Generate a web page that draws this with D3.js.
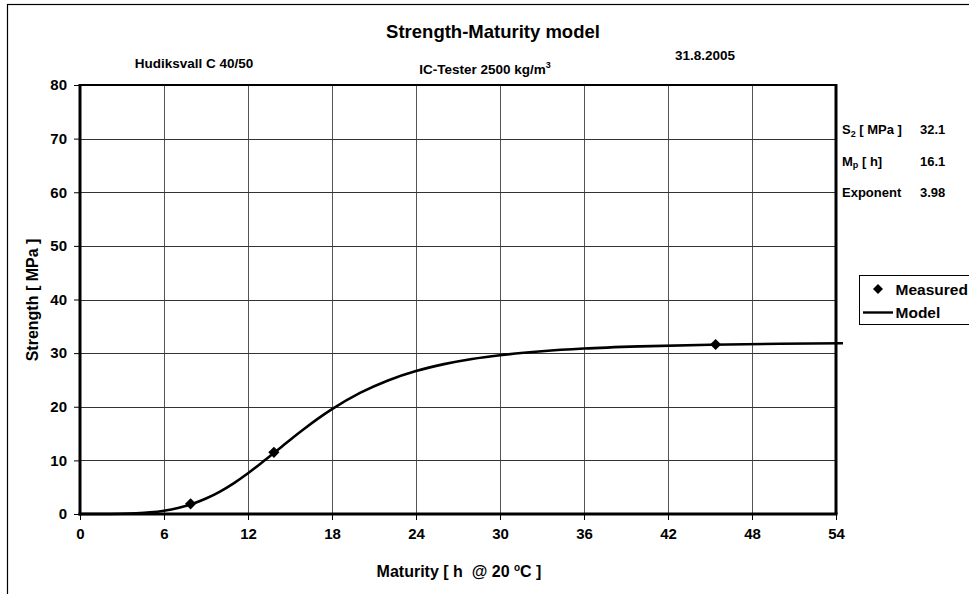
<!DOCTYPE html>
<html>
<head>
<meta charset="utf-8">
<script src="https://cdn.jsdelivr.net/npm/d3@7"></script>
<style>
  html, body { margin: 0; padding: 0; background: #fff; }
  svg { display: block; font-family: Arial, "Liberation Sans", sans-serif; font-weight: bold; }
</style>
</head>
<body>
<svg id="chart" width="969" height="594"></svg>
<script>
// ---- data ----
const title = "Strength-Maturity model";
const xTicks = [0, 6, 12, 18, 24, 30, 36, 42, 48, 54];
const yTicks = [0, 10, 20, 30, 40, 50, 60, 70, 80];
const measuredMaturity = [7.9, 13.85, 45.4];
const measuredStrength = [1.9, 11.5, 31.6];
const modelMaturity = [0, 1, 2, 3, 4, 5, 6, 7, 8, 9, 10, 11, 12, 13, 14, 15, 16, 17, 18, 20, 22, 24, 26, 28, 30, 33, 36, 40, 45, 50, 54.5];
const modelStrength = [0, 0.0, 0.01, 0.04, 0.13, 0.30, 0.62, 1.13, 1.87, 2.89, 4.19, 5.77, 7.60, 9.61, 11.70, 13.81, 15.85, 17.78, 19.55, 22.58, 24.91, 26.66, 27.95, 28.91, 29.61, 30.35, 30.85, 31.26, 31.57, 31.75, 31.85];
const paramLabels = ["S2", "Mp", "Exponent"];
const paramValues = ["32.1", "16.1", "3.98"];
const legendLabels = ["Measured", "Model"];

const svg = d3.select("#chart");
const FF = "Arial, 'Liberation Sans', sans-serif";

// outer frame
svg.append("rect").attr("x", 7.5).attr("y", 4.5).attr("width", 980).attr("height", 600)
  .attr("fill", "none").attr("stroke", "#000").attr("stroke-width", 1.2);

const L = 80, R = 836, T = 85, B = 514;
const x = d3.scaleLinear().domain([0, 54]).range([L, R]);
const y = d3.scaleLinear().domain([0, 80]).range([B, T]);

// gridlines
const grid = svg.append("g");
grid.selectAll(".vg").data(xTicks.slice(1, -1)).join("line")
  .attr("x1", d => Math.round(x(d)) + 0.5).attr("x2", d => Math.round(x(d)) + 0.5)
  .attr("y1", T).attr("y2", B).attr("stroke", "#555").attr("stroke-width", 1);
grid.selectAll(".hg").data(yTicks.slice(1, -1)).join("line")
  .attr("y1", d => Math.round(y(d)) + 0.5).attr("y2", d => Math.round(y(d)) + 0.5)
  .attr("x1", L).attr("x2", R).attr("stroke", "#333").attr("stroke-width", 1);

// plot border
svg.append("line").attr("x1", L).attr("x2", R).attr("y1", T).attr("y2", T).attr("stroke", "#000").attr("stroke-width", 2);
svg.append("line").attr("x1", R).attr("x2", R).attr("y1", T - 1).attr("y2", B).attr("stroke", "#000").attr("stroke-width", 3);

// axes
const xAxis = d3.axisBottom(x).tickValues(xTicks).tickSize(6).tickPadding(8).tickFormat(d3.format("d"));
const gx = svg.append("g").attr("transform", `translate(0,${B})`).call(xAxis);
gx.select(".domain").attr("stroke-width", 3).attr("d", `M${L - 1.5},0H${R + 1.5}`);
gx.selectAll(".tick line").attr("stroke-width", 1);
gx.selectAll("text").attr("font-size", 15).attr("font-weight", "bold").attr("fill", "#000").attr("font-family", FF);

const yAxis = d3.axisLeft(y).tickValues(yTicks).tickSize(6).tickPadding(7).tickFormat(d3.format("d"));
const gy = svg.append("g").attr("transform", `translate(${L},0)`).call(yAxis);
gy.select(".domain").attr("stroke-width", 3).attr("d", `M0,${T - 1}V${B + 1.5}`);
gy.selectAll(".tick line").attr("stroke-width", 1);
gy.selectAll("text").attr("font-size", 15).attr("font-weight", "bold").attr("fill", "#000").attr("font-family", FF);

// model curve
const modelData = modelMaturity.map((m, i) => [m, modelStrength[i]]);
svg.append("path").datum(modelData)
  .attr("fill", "none").attr("stroke", "#000").attr("stroke-width", 2.6)
  .attr("d", d3.line().x(d => x(d[0])).y(d => y(d[1])).curve(d3.curveMonotoneX));

// measured points (square rotated 45deg)
const diamond = d3.symbol().type(d3.symbolSquare).size(62);
svg.selectAll(".pt").data(measuredMaturity.map((m, i) => [m, measuredStrength[i]])).join("path")
  .attr("transform", d => `translate(${x(d[0])},${y(d[1])}) rotate(45)`)
  .attr("d", diamond).attr("fill", "#000");

// titles
svg.append("text").attr("x", 493).attr("y", 38).attr("text-anchor", "middle").attr("font-size", 18.5).text(title);
svg.append("text").attr("x", 194).attr("y", 68).attr("text-anchor", "middle").attr("font-size", 13.5).text("Hudiksvall C 40/50");
svg.append("text").attr("x", 705).attr("y", 60).attr("text-anchor", "middle").attr("font-size", 13.5).text("31.8.2005");
const sub = svg.append("text").attr("x", 485).attr("y", 74).attr("text-anchor", "middle").attr("font-size", 13.5);
sub.append("tspan").text("IC-Tester 2500 kg/m");
sub.append("tspan").attr("font-size", 9).attr("dy", -6).text("3");

// axis titles
const xt = svg.append("text").attr("x", 459).attr("y", 577).attr("text-anchor", "middle").attr("font-size", 16);
xt.append("tspan").text("Maturity [ h\u00a0\u00a0@ 20 ");
xt.append("tspan").attr("font-size", 10).attr("dy", -6).text("o");
xt.append("tspan").attr("dy", 6).text("C ]");
svg.append("text").attr("transform", "translate(38,300) rotate(-90)").attr("text-anchor", "middle")
  .attr("font-size", 16).text("Strength [ MPa ]");

// parameters
const pY = [134, 165.5, 197];
const p0 = svg.append("text").attr("x", 842).attr("y", pY[0]).attr("font-size", 13);
p0.append("tspan").text("S");
p0.append("tspan").attr("font-size", 9).attr("dy", 2.5).text("2");
p0.append("tspan").attr("dy", -2.5).text(" [ MPa ]");
const p1 = svg.append("text").attr("x", 842).attr("y", pY[1]).attr("font-size", 13);
p1.append("tspan").text("M");
p1.append("tspan").attr("font-size", 9).attr("dy", 2.5).text("p");
p1.append("tspan").attr("dy", -2.5).text(" [ h]");
svg.append("text").attr("x", 842).attr("y", pY[2]).attr("font-size", 13).text(paramLabels[2]);
svg.selectAll(".pv").data(paramValues).join("text")
  .attr("x", 920).attr("y", (d, i) => pY[i]).attr("font-size", 13).text(d => d);

// legend
const legendDiamond = d3.symbol().type(d3.symbolSquare).size(50);
svg.append("rect").attr("x", 859.5).attr("y", 275.5).attr("width", 130).attr("height", 49)
  .attr("fill", "#fff").attr("stroke", "#000").attr("stroke-width", 1);
svg.append("path").attr("transform", "translate(878,289) rotate(45)").attr("d", legendDiamond).attr("fill", "#000");
svg.append("line").attr("x1", 863).attr("x2", 893).attr("y1", 312.5).attr("y2", 312.5).attr("stroke", "#000").attr("stroke-width", 2.4);
svg.append("text").attr("x", 895.5).attr("y", 294.5).attr("font-size", 15.5).text(legendLabels[0]);
svg.append("text").attr("x", 895.5).attr("y", 318).attr("font-size", 15.5).text(legendLabels[1]);
</script>
</body>
</html>
